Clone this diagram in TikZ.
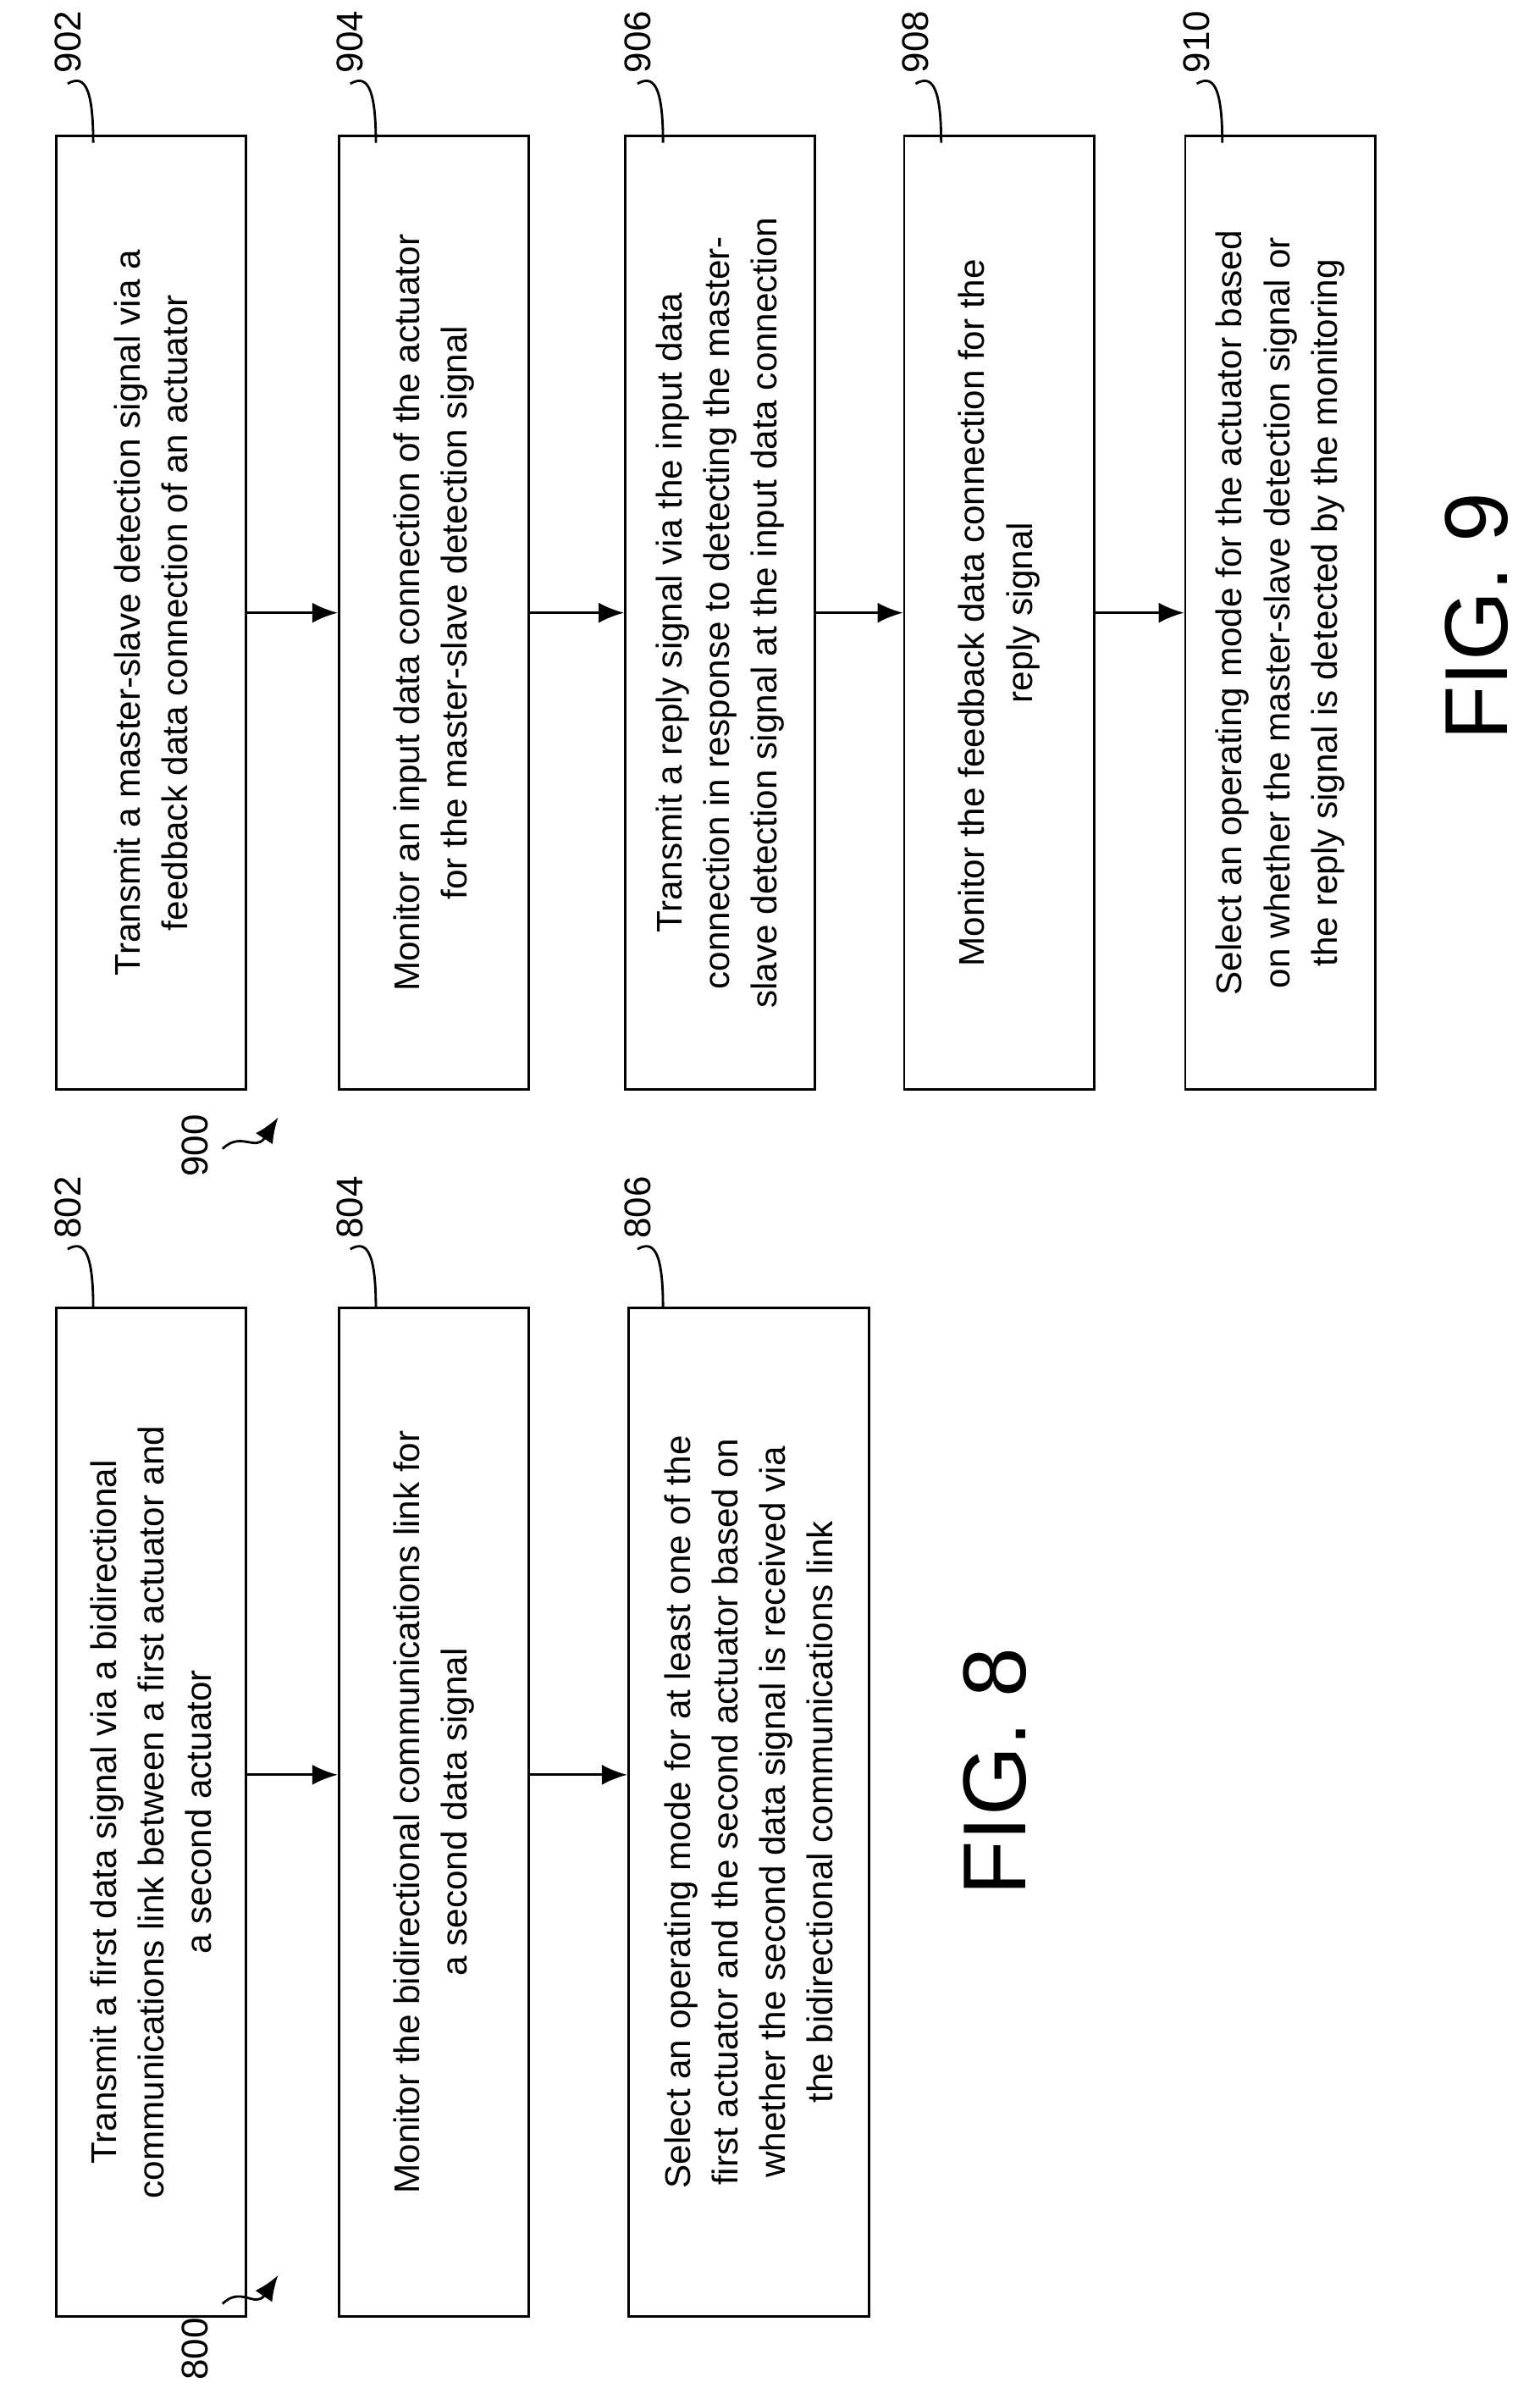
\documentclass[tikz,border=0pt]{standalone}
\usepackage{fontspec}
\setmainfont{Liberation Sans}
\usetikzlibrary{arrows.meta}

\tikzset{
  stepbox/.style={draw, thick, rotate=90, minimum width=11.25cm, minimum height=2.24cm,
               align=center, font=\fontsize{12}{16}\selectfont, inner sep=2pt},
  stepboxL/.style={stepbox, minimum width=11.9cm},
  ref/.style={rotate=90, font=\fontsize{12.5}{15}\selectfont},
  lead/.style={thick},
  flow/.style={thick, -{Latex[length=3mm,width=2.4mm]}},
  fig/.style={rotate=90, font=\fontsize{30}{34}\selectfont}
}

\begin{document}
\begin{tikzpicture}[x=0.01775cm, y=-0.01775cm]
                \useasboundingbox (0,0) rectangle (1024,1588);

                % FIG. 9 steps
                \node[stepbox] (n902) at (100.5,407.5) {Transmit a master-slave detection signal via a\\feedback data connection of an actuator};
                \node[stepbox] (n904) at (288.5,407.5) {Monitor an input data connection of the actuator\\for the master-slave detection signal};
                \node[stepbox] (n906) at (479,407.5) {Transmit a reply signal via the input data\\connection in response to detecting the master-\\slave detection signal at the input data connection};
                \node[stepbox] (n908) at (664.5,407.5) {Monitor the feedback data connection for the\\reply signal};
                \node[stepbox] (n910) at (851.5,407.5) {Select an operating mode for the actuator based\\on whether the master-slave detection signal or\\the reply signal is detected by the monitoring};

                \draw[flow] (n902.south) -- (n904.north);
                \draw[flow] (n904.south) -- (n906.north);
                \draw[flow] (n906.south) -- (n908.north);
                \draw[flow] (n908.south) -- (n910.north);

                % FIG. 8 steps
                \node[stepboxL] (n802) at (100.5,1205) {Transmit a first data signal via a bidirectional\\communications link between a first actuator and\\a second actuator};
                \node[stepboxL] (n804) at (288.5,1205) {Monitor the bidirectional communications link for\\a second data signal};
                \node[stepboxL, minimum height=2.84cm] (n806) at (498,1205) {Select an operating mode for at least one of the\\first actuator and the second actuator based on\\whether the second data signal is received via\\the bidirectional communications link};

                \draw[flow] ([yshift=0.44cm]n802.south) -- ([yshift=0.44cm]n804.north);
                \draw[flow] ([yshift=0.44cm]n804.south) -- ([yshift=0.44cm]n806.north);

                % Reference numerals
                \foreach \s/\x in {902/45,904/233,906/424,908/609,910/796}{
                  \node[ref] (r\s) at (\x,28) {\s};
                  \draw[lead] (\x+17,95) .. controls (\x+17,55) and (\x+10,50) .. (r\s.west);
                }
                \foreach \s/\x in {802/45,804/233,806/424}{
                  \node[ref] (r\s) at (\x,803) {\s};
                  \draw[lead] (\x+17,870) .. controls (\x+17,830) and (\x+10,825) .. (r\s.west);
                }

                \node[ref] (r800) at (130,1562) {800};
                \coordinate (t800) at (185,1513);
                \draw[flow] (148,1532) .. controls (160,1520) and (170,1535) .. (t800);
                \node[ref] (r900) at (130,762) {900};
                \coordinate (t900) at (185,743);
                \draw[flow] (148,764) .. controls (160,752) and (170,766) .. (t900);

                % Figure titles
                \node[fig] (f8) at (662,1178) {FIG. 8};
                \node[fig] (f9) at (982,410) {FIG. 9};
            \end{tikzpicture}
\end{document}
